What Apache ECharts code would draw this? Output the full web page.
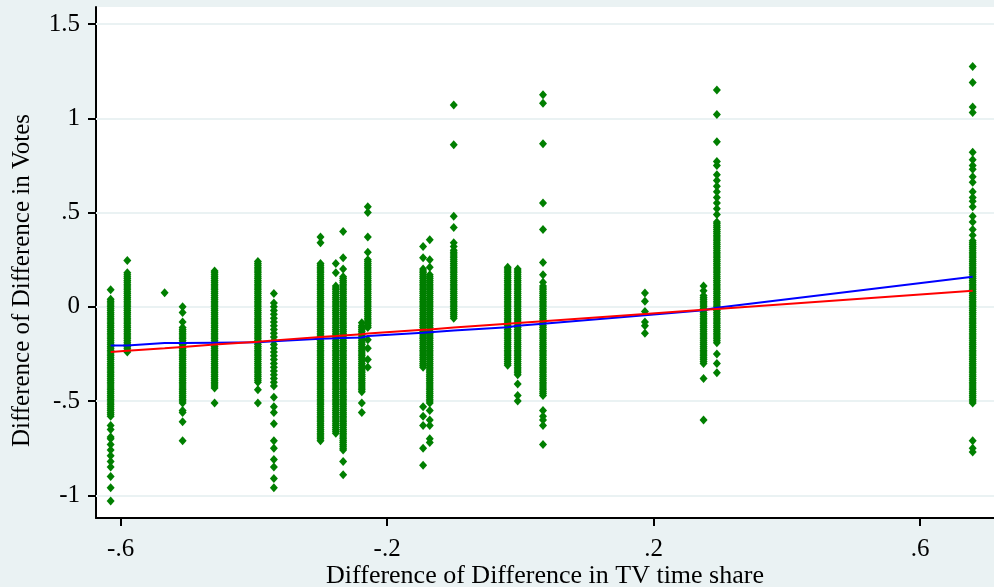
<!DOCTYPE html>
<html>
<head>
<meta charset="utf-8">
<script src="https://cdn.jsdelivr.net/npm/echarts@6/dist/echarts.min.js"></script>
<style>
html,body{margin:0;padding:0;background:#eaf2f3;}
#chart{width:994px;height:587px;}
</style>
</head>
<body>
<div id="chart"></div>
<script>
// x positions of the vertical clusters of observations
const clusterX = [-0.615, -0.59, -0.534, -0.507, -0.459, -0.394, -0.37, -0.30, -0.277, -0.266, -0.238, -0.229,
  -0.146, -0.136, -0.10, -0.019, -0.004, 0.034, 0.187, 0.275, 0.295, 0.679];

const clusterY = [
  [.09,.04,.03,.02,.01,0,-.01,-.02,-.03,-.04,-.05,-.06,-.07,-.08,-.09,-.1,-.11,-.12,-.13,-.14,-.15,-.16,-.17,-.18,-.19,-.2,-.21,-.22,-.23,-.24,-.25,-.26,-.27,-.28,-.29,-.3,-.31,-.32,-.33,-.34,-.35,-.36,-.37,-.38,-.39,-.4,-.41,-.42,-.43,-.44,-.45,-.46,-.47,-.48,-.49,-.5,-.51,-.52,-.53,-.54,-.55,-.56,-.57,-.58,-.63,-.65,-.69,-.7,-.73,-.76,-.79,-.82,-.85,-.9,-.96,-1.03],
  [.245,.18,.17,.16,.15,.14,.13,.12,.11,.1,.09,.08,.07,.06,.05,.04,.03,.02,.01,0,-.01,-.02,-.03,-.04,-.05,-.06,-.07,-.08,-.09,-.1,-.11,-.12,-.13,-.14,-.15,-.16,-.17,-.18,-.19,-.2,-.21,-.22,-.23,-.24],
  [.075],
  [0,-.03,-.08,-.11,-.12,-.13,-.14,-.15,-.16,-.17,-.18,-.19,-.2,-.21,-.22,-.23,-.24,-.25,-.26,-.27,-.28,-.29,-.3,-.31,-.32,-.33,-.34,-.35,-.36,-.37,-.38,-.39,-.4,-.41,-.42,-.43,-.44,-.45,-.46,-.47,-.48,-.49,-.5,-.51,-.55,-.56,-.61,-.71],
  [.19,.18,.17,.16,.15,.14,.13,.12,.11,.1,.09,.08,.07,.06,.05,.04,.03,.02,.01,0,-.01,-.02,-.03,-.04,-.05,-.06,-.07,-.08,-.09,-.1,-.11,-.12,-.13,-.14,-.15,-.16,-.17,-.18,-.19,-.2,-.21,-.22,-.23,-.24,-.25,-.26,-.27,-.28,-.29,-.3,-.31,-.32,-.33,-.34,-.35,-.36,-.37,-.38,-.39,-.4,-.41,-.42,-.43,-.51],
  [.24,.23,.22,.21,.2,.19,.18,.17,.16,.15,.14,.13,.12,.11,.1,.09,.08,.07,.06,.05,.04,.03,.02,.01,0,-.01,-.02,-.03,-.04,-.05,-.06,-.07,-.08,-.09,-.1,-.11,-.12,-.13,-.14,-.15,-.16,-.17,-.18,-.19,-.2,-.21,-.22,-.23,-.24,-.25,-.26,-.27,-.28,-.29,-.3,-.31,-.32,-.33,-.34,-.35,-.36,-.37,-.38,-.39,-.4,-.44,-.51],
  [.07,.02,0,-.02,-.04,-.06,-.08,-.1,-.12,-.14,-.16,-.18,-.2,-.22,-.24,-.26,-.28,-.3,-.32,-.34,-.36,-.38,-.4,-.42,-.48,-.53,-.56,-.62,-.71,-.75,-.81,-.85,-.91,-.96],
  [.37,.34,.23,.22,.21,.2,.19,.18,.17,.16,.15,.14,.13,.12,.11,.1,.09,.08,.07,.06,.05,.04,.03,.02,.01,0,-.01,-.02,-.03,-.04,-.05,-.06,-.07,-.08,-.09,-.1,-.11,-.12,-.13,-.14,-.15,-.16,-.17,-.18,-.19,-.2,-.21,-.22,-.23,-.24,-.25,-.26,-.27,-.28,-.29,-.3,-.31,-.32,-.33,-.34,-.35,-.36,-.37,-.38,-.39,-.4,-.41,-.42,-.43,-.44,-.45,-.46,-.47,-.48,-.49,-.5,-.51,-.52,-.53,-.54,-.55,-.56,-.57,-.58,-.59,-.6,-.61,-.62,-.63,-.64,-.65,-.66,-.67,-.68,-.69,-.7,-.71],
  [.23,.18,.11,.1,.09,.08,.07,.06,.05,.04,.03,.02,.01,0,-.01,-.02,-.03,-.04,-.05,-.06,-.07,-.08,-.09,-.1,-.11,-.12,-.13,-.14,-.15,-.16,-.17,-.18,-.19,-.2,-.21,-.22,-.23,-.24,-.25,-.26,-.27,-.28,-.29,-.3,-.31,-.32,-.33,-.34,-.35,-.36,-.37,-.38,-.39,-.4,-.41,-.42,-.43,-.44,-.45,-.46,-.47,-.48,-.49,-.5,-.51,-.52,-.53,-.54,-.55,-.56,-.57,-.58,-.59,-.6,-.61,-.62,-.63,-.64,-.65,-.66,-.67],
  [.4,.26,.2,.16,.15,.14,.13,.12,.11,.1,.09,.08,.07,.06,.05,.04,.03,.02,.01,0,-.01,-.02,-.03,-.04,-.05,-.06,-.07,-.08,-.09,-.1,-.11,-.12,-.13,-.14,-.15,-.16,-.17,-.18,-.19,-.2,-.21,-.22,-.23,-.24,-.25,-.26,-.27,-.28,-.29,-.3,-.31,-.32,-.33,-.34,-.35,-.36,-.37,-.38,-.39,-.4,-.41,-.42,-.43,-.44,-.45,-.46,-.47,-.48,-.49,-.5,-.51,-.52,-.53,-.54,-.55,-.56,-.57,-.58,-.59,-.6,-.61,-.62,-.63,-.64,-.65,-.66,-.67,-.68,-.69,-.7,-.71,-.72,-.73,-.74,-.75,-.76,-.82,-.89],
  [-.085,-.1,-.11,-.12,-.13,-.14,-.15,-.16,-.17,-.18,-.19,-.2,-.21,-.22,-.23,-.24,-.25,-.26,-.27,-.28,-.29,-.3,-.31,-.32,-.33,-.34,-.35,-.36,-.37,-.38,-.39,-.4,-.41,-.42,-.43,-.44,-.45,-.51,-.56],
  [.53,.5,.37,.29,.25,.24,.23,.22,.21,.2,.19,.18,.17,.16,.15,.14,.13,.12,.11,.1,.09,.08,.07,.06,.05,.04,.03,.02,.01,0,-.01,-.02,-.03,-.04,-.05,-.06,-.07,-.08,-.09,-.1,-.11,-.175,-.22,-.28,-.32],
  [.32,.26,.2,.19,.18,.17,.16,.15,.14,.13,.12,.11,.1,.09,.08,.07,.06,.05,.04,.03,.02,.01,0,-.01,-.02,-.03,-.04,-.05,-.06,-.07,-.08,-.09,-.1,-.11,-.12,-.13,-.14,-.15,-.16,-.17,-.18,-.19,-.2,-.21,-.22,-.23,-.24,-.25,-.26,-.27,-.28,-.29,-.3,-.31,-.32,-.53,-.58,-.63,-.75,-.84],
  [.355,.25,.21,.17,.16,.15,.14,.13,.12,.11,.1,.09,.08,.07,.06,.05,.04,.03,.02,.01,0,-.01,-.02,-.03,-.04,-.05,-.06,-.07,-.08,-.09,-.1,-.11,-.12,-.13,-.14,-.15,-.16,-.17,-.18,-.19,-.2,-.21,-.22,-.23,-.24,-.25,-.26,-.27,-.28,-.29,-.3,-.31,-.32,-.33,-.34,-.35,-.36,-.37,-.38,-.39,-.4,-.41,-.42,-.43,-.44,-.45,-.46,-.47,-.48,-.49,-.5,-.51,-.55,-.6,-.63,-.7,-.72],
  [1.07,.86,.48,.42,.34,.32,.3,.29,.28,.27,.26,.25,.24,.23,.22,.21,.2,.19,.18,.17,.16,.15,.14,.13,.12,.11,.1,.09,.08,.07,.06,.05,.04,.03,.02,.01,0,-.01,-.02,-.03,-.04,-.05,-.06],
  [.21,.2,.19,.18,.17,.16,.15,.14,.13,.12,.11,.1,.09,.08,.07,.06,.05,.04,.03,.02,.01,0,-.01,-.02,-.03,-.04,-.05,-.06,-.07,-.08,-.09,-.1,-.11,-.12,-.13,-.14,-.15,-.16,-.17,-.18,-.19,-.2,-.21,-.22,-.23,-.24,-.25,-.26,-.27,-.28,-.29,-.3,-.31],
  [.2,.19,.18,.17,.16,.15,.14,.13,.12,.11,.1,.09,.08,.07,.06,.05,.04,.03,.02,.01,0,-.01,-.02,-.03,-.04,-.05,-.06,-.07,-.08,-.09,-.1,-.11,-.12,-.13,-.14,-.15,-.16,-.17,-.18,-.19,-.2,-.21,-.22,-.23,-.24,-.25,-.26,-.27,-.28,-.29,-.3,-.31,-.32,-.33,-.34,-.35,-.36,-.41,-.47,-.5],
  [1.125,1.08,.865,.55,.41,.235,.17,.13,.11,.1,.09,.08,.07,.06,.05,.04,.03,.02,.01,0,-.01,-.02,-.03,-.04,-.05,-.06,-.07,-.08,-.09,-.1,-.11,-.12,-.13,-.14,-.15,-.16,-.17,-.18,-.19,-.2,-.21,-.22,-.23,-.24,-.25,-.26,-.27,-.28,-.29,-.3,-.31,-.32,-.33,-.34,-.35,-.36,-.37,-.38,-.39,-.4,-.41,-.42,-.43,-.44,-.45,-.46,-.47,-.55,-.58,-.6,-.63,-.73],
  [.073,.03,-.025,-.08,-.1,-.14],
  [.11,.085,.06,.05,.04,.03,.02,.01,0,-.01,-.02,-.03,-.04,-.05,-.06,-.07,-.08,-.09,-.1,-.11,-.12,-.13,-.14,-.15,-.16,-.17,-.18,-.19,-.2,-.21,-.22,-.23,-.24,-.25,-.26,-.27,-.28,-.29,-.3,-.38,-.6],
  [1.15,1.02,.875,.77,.75,.7,.67,.64,.61,.58,.55,.52,.49,.45,.44,.43,.42,.41,.4,.39,.38,.37,.36,.35,.34,.33,.32,.31,.3,.29,.28,.27,.26,.25,.24,.23,.22,.21,.2,.19,.18,.17,.16,.15,.14,.13,.12,.11,.1,.09,.08,.07,.06,.05,.04,.03,.02,.01,0,-.01,-.02,-.03,-.04,-.05,-.06,-.07,-.08,-.09,-.1,-.11,-.12,-.13,-.14,-.15,-.16,-.17,-.18,-.19,-.25,-.3,-.35],
  [1.275,1.19,1.06,1.03,.82,.78,.75,.73,.69,.66,.61,.58,.56,.53,.48,.45,.41,.38,.35,.34,.33,.32,.31,.3,.29,.28,.27,.26,.25,.24,.23,.22,.21,.2,.19,.18,.17,.16,.15,.14,.13,.12,.11,.1,.09,.08,.07,.06,.05,.04,.03,.02,.01,0,-.01,-.02,-.03,-.04,-.05,-.06,-.07,-.08,-.09,-.1,-.11,-.12,-.13,-.14,-.15,-.16,-.17,-.18,-.19,-.2,-.21,-.22,-.23,-.24,-.25,-.26,-.27,-.28,-.29,-.3,-.31,-.32,-.33,-.34,-.35,-.36,-.37,-.38,-.39,-.4,-.41,-.42,-.43,-.44,-.45,-.46,-.47,-.48,-.49,-.5,-.51,-.71,-.75,-.77]
];

// fitted lines evaluated at the cluster positions
const lowessY = [-0.205,-0.205,-0.192,-0.192,-0.19,-0.188,-0.183,-0.17,-0.167,-0.165,-0.163,-0.155,-0.138,-0.135,-0.125,-0.108,-0.10,-0.09,-0.045,-0.018,-0.005,0.16];
const linearY = [-0.24,-0.233,-0.22,-0.213,-0.20,-0.185,-0.178,-0.16,-0.155,-0.152,-0.145,-0.142,-0.122,-0.12,-0.11,-0.09,-0.086,-0.077,-0.038,-0.016,-0.011,0.085];

const xTicks = [-0.6, -0.2, 0.2, 0.6];
const yTicks = [-1, -0.5, 0, 0.5, 1, 1.5];

const scatterData = [];
clusterX.forEach((x, i) => clusterY[i].forEach(y => scatterData.push([x, y])));
const lowessData = clusterX.map((x, i) => [x, lowessY[i]]);
const linearData = clusterX.map((x, i) => [x, linearY[i]]);

function fmt(v) {
  if (v === 0) return '0';
  let s = String(Math.round(v * 100) / 100);
  return s.replace(/^0\./, '.').replace(/^-0\./, '-.');
}

const FONT = 'Liberation Serif';
const chart = echarts.init(document.getElementById('chart'));
chart.setOption({
  backgroundColor: '#eaf2f3',
  animation: false,
  grid: { left: 96, right: 0, top: 7, bottom: 69, show: true, backgroundColor: '#ffffff', borderWidth: 0,
    containLabel: false, outerBoundsMode: 'none' },
  xAxis: {
    type: 'value', min: -0.637, max: 0.711,
    name: 'Difference of Difference in TV time share',
    nameLocation: 'middle', nameGap: 45, nameMoveOverlap: false,
    nameTextStyle: { fontFamily: FONT, fontSize: 26, color: '#000' },
    axisLine: { show: true, onZero: false, lineStyle: { color: '#000', width: 2 } },
    axisTick: { show: true, length: 8, customValues: xTicks, lineStyle: { color: '#000', width: 2 } },
    axisLabel: { customValues: xTicks, formatter: fmt, margin: 19, fontFamily: FONT, fontSize: 25, color: '#000' },
    splitLine: { show: false }
  },
  yAxis: {
    type: 'value', min: -1.12, max: 1.59,
    name: 'Difference of Difference in Votes',
    nameLocation: 'middle', nameGap: 61, nameRotate: 90, nameMoveOverlap: false,
    nameTextStyle: { fontFamily: FONT, fontSize: 25, color: '#000', padding: [0, 36, 0, 0] },
    axisLine: { show: true, onZero: false, lineStyle: { color: '#000', width: 2 } },
    axisTick: { show: true, length: 8, customValues: yTicks, lineStyle: { color: '#000', width: 2 } },
    axisLabel: { customValues: yTicks, formatter: fmt, margin: 16, fontFamily: FONT, fontSize: 25, color: '#000' },
    splitLine: { show: false }
  },
  series: [
    {
      type: 'line', data: [], z: 1, silent: true,
      markLine: {
        z: 1, silent: true, symbol: 'none', label: { show: false },
        lineStyle: { color: '#eaf2f3', width: 2, type: 'solid' },
        data: yTicks.map(v => ({ yAxis: v }))
      }
    },
    {
      type: 'scatter', data: scatterData, symbol: 'diamond', symbolSize: [8, 9],
      itemStyle: { color: '#007f00', opacity: 1 }, z: 3
    },
    {
      type: 'line', data: lowessData, symbol: 'none', z: 4,
      lineStyle: { color: '#0000ff', width: 2 }
    },
    {
      type: 'line', data: linearData, symbol: 'none', z: 5,
      lineStyle: { color: '#ff0000', width: 2 }
    }
  ]
});
</script>
</body>
</html>
